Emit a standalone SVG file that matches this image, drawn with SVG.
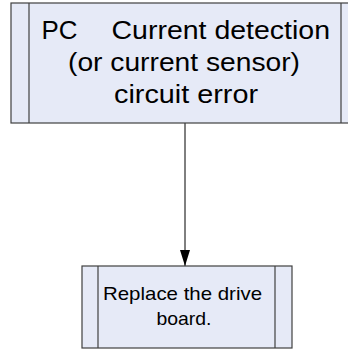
<svg xmlns="http://www.w3.org/2000/svg" width="348" height="349" viewBox="0 0 348 349">
<style>
.box{fill:#E6EAF7;stroke:#404040;stroke-width:1.2}
.bar{stroke:#404040;stroke-width:1.2}
.t{font-family:"Liberation Sans",Arial,sans-serif;fill:#000}
.conn{stroke:#000;stroke-width:1;fill:none}
</style>
<defs>
<marker id="arr" markerWidth="16" markerHeight="10" refX="16" refY="5" orient="auto" markerUnits="userSpaceOnUse" viewBox="0 0 16 10">
<path d="M0,0 L16,5 L0,10 Z" fill="#000"/>
</marker>
</defs>
<g id="connectors">
<line class="conn" x1="185" y1="123" x2="185" y2="266" marker-end="url(#arr)"/>
</g>
<g id="node-error">
<rect class="box" x="11" y="3" width="348" height="120"/>
<line class="bar" x1="29" y1="3" x2="29" y2="123"/>
<line class="bar" x1="341" y1="3" x2="341" y2="123"/>
<text class="t" font-size="25.5" x="41.5" y="39" textLength="36" lengthAdjust="spacingAndGlyphs">PC</text>
<text class="t" font-size="25.5" x="111.5" y="39" textLength="218.5" lengthAdjust="spacingAndGlyphs">Current detection</text>
<text class="t" font-size="25.5" x="68" y="71" textLength="232" lengthAdjust="spacingAndGlyphs">(or current sensor)</text>
<text class="t" font-size="25.5" x="114" y="103" textLength="144" lengthAdjust="spacingAndGlyphs">circuit error</text>
</g>
<g id="node-replace">
<rect class="box" x="82" y="266" width="210" height="82"/>
<line class="bar" x1="98" y1="266" x2="98" y2="348"/>
<line class="bar" x1="275" y1="266" x2="275" y2="348"/>
<text class="t" font-size="18.6" x="103" y="300" textLength="159" lengthAdjust="spacingAndGlyphs">Replace the drive</text>
<text class="t" font-size="18.6" x="156.5" y="325" textLength="55" lengthAdjust="spacingAndGlyphs">board.</text>
</g>
</svg>
